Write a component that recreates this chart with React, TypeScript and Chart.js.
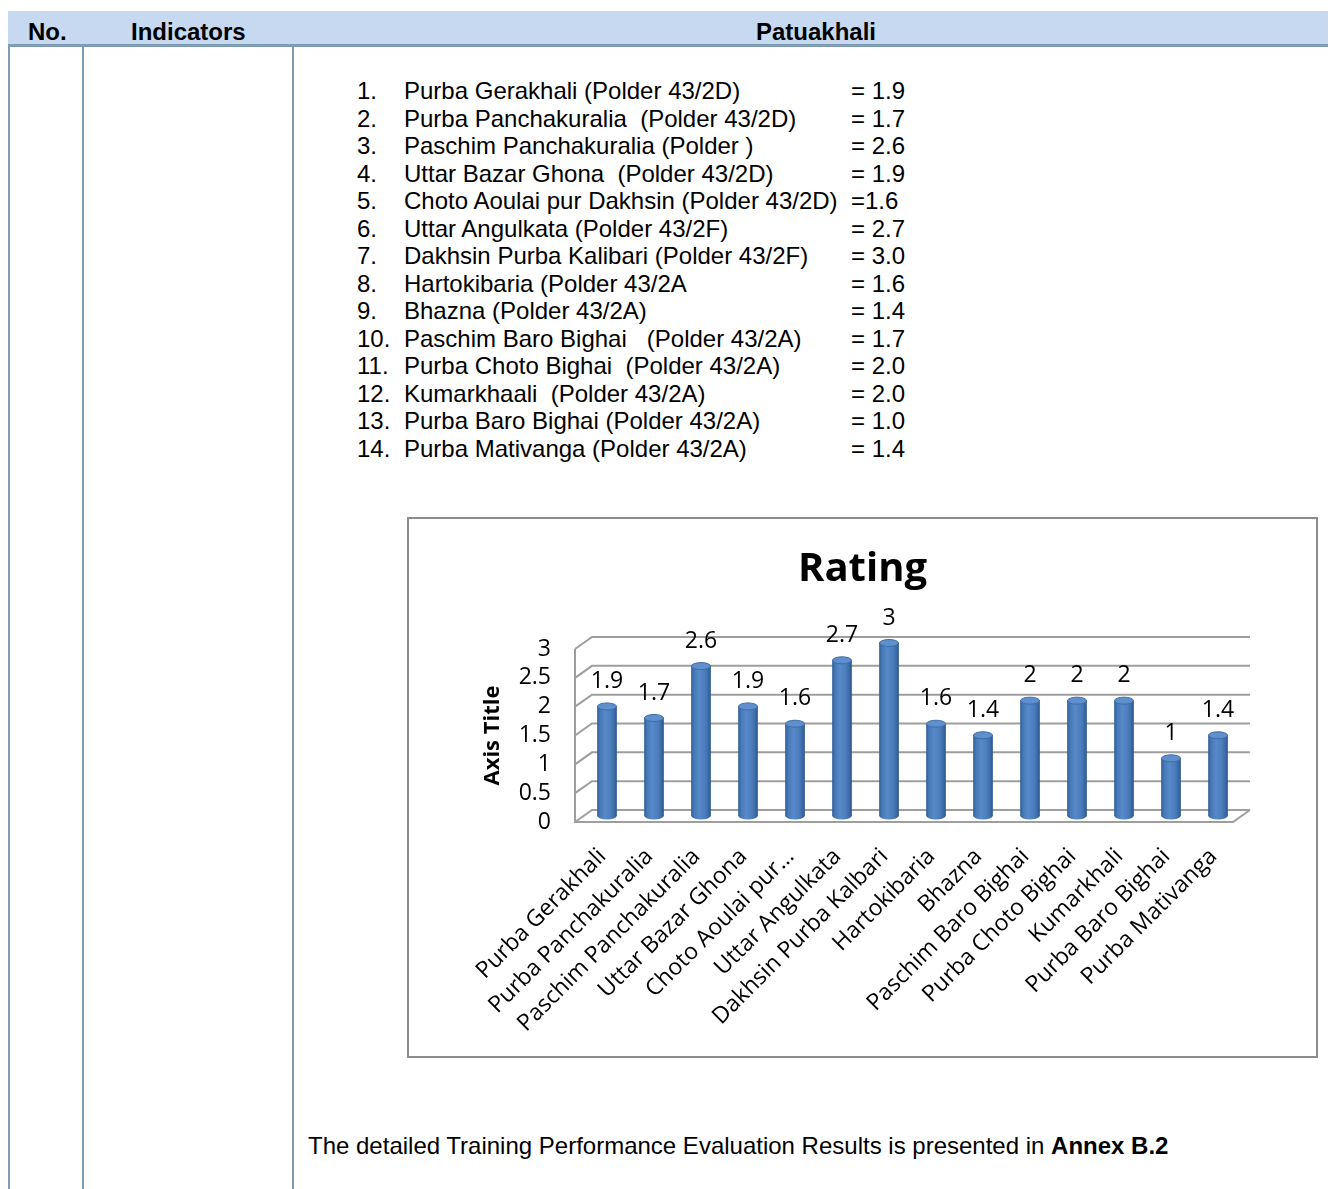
import React, { useEffect, useRef } from "react";
import { Chart, registerables } from "chart.js";

Chart.register(...registerables);

// ---------- data ----------
const categories = [
  "Purba Gerakhali",
  "Purba Panchakuralia",
  "Paschim Panchakuralia",
  "Uttar Bazar Ghona",
  "Choto Aoulai pur…",
  "Uttar Angulkata",
  "Dakhsin Purba Kalbari",
  "Hartokibaria",
  "Bhazna",
  "Paschim Baro Bighai",
  "Purba Choto Bighai",
  "Kumarkhali",
  "Purba Baro Bighai",
  "Purba Mativanga",
];
const ratings = [1.9, 1.7, 2.6, 1.9, 1.6, 2.7, 3, 1.6, 1.4, 2, 2, 2, 1, 1.4];
const yTicks = [0, 0.5, 1, 1.5, 2, 2.5, 3];

const listNames = [
  "Purba Gerakhali (Polder 43/2D)",
  "Purba Panchakuralia  (Polder 43/2D)",
  "Paschim Panchakuralia (Polder )",
  "Uttar Bazar Ghona  (Polder 43/2D)",
  "Choto Aoulai pur Dakhsin (Polder 43/2D)",
  "Uttar Angulkata (Polder 43/2F)",
  "Dakhsin Purba Kalibari (Polder 43/2F)",
  "Hartokibaria (Polder 43/2A",
  "Bhazna (Polder 43/2A)",
  "Paschim Baro Bighai   (Polder 43/2A)",
  "Purba Choto Bighai  (Polder 43/2A)",
  "Kumarkhaali  (Polder 43/2A)",
  "Purba Baro Bighai (Polder 43/2A)",
  "Purba Mativanga (Polder 43/2A)",
];
const listValues = [
  "= 1.9", "= 1.7", "= 2.6", "= 1.9", "=1.6", "= 2.7", "= 3.0",
  "= 1.6", "= 1.4", "= 1.7", "= 2.0", "= 2.0", "= 1.0", "= 1.4",
];

// ---------- styles ----------
const CHART_FONT = "'Open Sans', 'DejaVu Sans', sans-serif";
const DOC_FONT = "'Liberation Sans', Arial, sans-serif";
const GRID = "#9e9e9e";
const DX = 17;
const DY = 12;
const BAR_W = 19;
const LINE_COLOR = "#7f9cb5";
const BAR_FLAT = "#4f81bd";

function cylGradient(ctx: CanvasRenderingContext2D, cx: number, w: number): any {
  if (!isFinite(cx) || !isFinite(w)) return BAR_FLAT;
  const g = ctx.createLinearGradient(cx - w / 2, 0, cx + w / 2, 0);
  g.addColorStop(0, "#305f98");
  g.addColorStop(0.12, "#4577b6");
  g.addColorStop(0.4, "#5889c8");
  g.addColorStop(0.7, "#4b7ebd");
  g.addColorStop(0.9, "#3a6aa6");
  g.addColorStop(1, "#2b5689");
  return g;
}

const depthPlugin = {
  id: "depth3d",
  beforeDatasetsDraw(chart: any) {
    const { ctx, chartArea: a, scales } = chart;
    const y = scales.y;
    ctx.save();
    ctx.strokeStyle = GRID;
    ctx.lineWidth = 2;
    y.ticks.forEach((t: any) => {
      const py = y.getPixelForValue(t.value);
      ctx.beginPath();
      ctx.moveTo(a.left, py);
      ctx.lineTo(a.left + DX, py - DY);
      ctx.lineTo(a.right + DX, py - DY);
      ctx.stroke();
    });
    const y0 = y.getPixelForValue(0);
    const yTop = y.getPixelForValue(y.max);
    ctx.beginPath();
    ctx.moveTo(a.left, yTop);
    ctx.lineTo(a.left, y0);
    ctx.lineTo(a.right, y0);
    ctx.lineTo(a.right + DX, y0 - DY);
    ctx.stroke();
    ctx.restore();

    // shift the cylinders to the middle of the depth
    ctx.save();
    ctx.translate(DX / 2, -DY / 2);
    const meta = chart.getDatasetMeta(0);
    meta.data.forEach((el: any) => {
      if (!isFinite(el.x) || !isFinite(el.base)) return;
      ctx.beginPath();
      ctx.ellipse(el.x, el.base, el.width / 2, 3.5, 0, 0, Math.PI * 2);
      ctx.fillStyle = cylGradient(ctx, el.x, el.width);
      ctx.fill();
    });
  },
  afterDatasetsDraw(chart: any) {
    const { ctx } = chart;
    const meta = chart.getDatasetMeta(0);
    meta.data.forEach((el: any) => {
      if (!isFinite(el.x) || !isFinite(el.y)) return;
      ctx.beginPath();
      ctx.ellipse(el.x, el.y, el.width / 2, 3.5, 0, 0, Math.PI * 2);
      ctx.fillStyle = "#5f8fcc";
      ctx.fill();
      ctx.lineWidth = 1;
      ctx.strokeStyle = "#3d6ca6";
      ctx.stroke();
    });
    ctx.restore();

    // data labels
    ctx.save();
    ctx.font = `23px ${CHART_FONT}`;
    ctx.fillStyle = "#000";
    ctx.textAlign = "center";
    ctx.textBaseline = "middle";
    meta.data.forEach((el: any, i: number) => {
      ctx.fillText(String(ratings[i]), el.x + DX / 2, el.y - DY / 2 - 25);
    });
    ctx.restore();
  },
};

function RatingChart() {
  const ref = useRef<HTMLCanvasElement | null>(null);
  useEffect(() => {
    if (!ref.current) return;
    let chart: any = null;
    try {
      chart = new Chart(ref.current, {
        type: "bar",
        data: {
          labels: categories,
          datasets: [
            {
              label: "Rating",
              data: ratings,
              barThickness: BAR_W,
              clip: false as any,
              borderWidth: 0,
              backgroundColor: (c: any) => {
                const ch = c.chart;
                const xs = ch.scales && ch.scales.x;
                if (!xs || c.dataIndex === undefined || !ch.chartArea) return BAR_FLAT;
                const cx = xs.getPixelForValue(c.dataIndex);
                return cylGradient(ch.ctx, cx, BAR_W);
              },
            },
          ],
        },
        options: {
          responsive: false,
          animation: false,
          devicePixelRatio: 1,
          layout: { padding: { left: 83, right: 83, top: 20, bottom: 0 } },
          plugins: {
            legend: { display: false },
            tooltip: { enabled: false },
            title: {
              display: true,
              text: "Rating",
              color: "#000",
              font: { family: CHART_FONT, size: 40, weight: "bold" },
              padding: { top: 7, bottom: 55 },
            },
          },
          scales: {
            x: {
              grid: { display: false, drawTicks: false },
              border: { display: false },
              ticks: {
                autoSkip: false,
                minRotation: 45,
                maxRotation: 45,
                padding: 21,
                labelOffset: 4,
                color: "#000",
                font: { family: CHART_FONT, size: 23 },
              },
              afterFit: (s: any) => {
                s.height = 234;
              },
            },
            y: {
              min: 0,
              max: 3,
              grid: { display: false, drawTicks: false },
              border: { display: false },
              afterBuildTicks: (s: any) => {
                s.ticks = yTicks.map((v) => ({ value: v }));
              },
              ticks: {
                autoSkip: false,
                padding: 24,
                color: "#000",
                font: { family: CHART_FONT, size: 23 },
                callback: (v: any) => String(v),
              },
              title: {
                display: true,
                text: "Axis Title",
                color: "#000",
                font: { family: CHART_FONT, size: 22, weight: "bold" },
                padding: { top: -12, bottom: 0 },
              },
              afterFit: (s: any) => {
                s.width = 83;
              },
            },
          },
        },
        plugins: [depthPlugin],
      });
    } catch (e) {
      console.error(e);
    }
    return () => {
      if (chart) chart.destroy();
    };
  }, []);
  return <canvas ref={ref} width={907} height={537} style={{ display: "block" }} />;
}

export default function App() {
  const abs = (s: React.CSSProperties): React.CSSProperties => ({ position: "absolute", ...s });
  return (
    <div style={{ position: "relative", width: 1328, height: 1181, overflow: "hidden", fontFamily: DOC_FONT, color: "#000" }}>
      <style>{`html,body{overflow:hidden}`}</style>
      {/* header */}
      <div style={abs({ left: 0, top: 3, width: 1328, height: 33, background: "#c6d9f1" })} />
      <div style={abs({ left: 0, top: 36, width: 1328, height: 3, background: LINE_COLOR })} />
      <div style={abs({ left: 0, top: 39, width: 2, height: 1142, background: LINE_COLOR })} />
      <div style={abs({ left: 74, top: 39, width: 2, height: 1142, background: LINE_COLOR })} />
      <div style={abs({ left: 284, top: 39, width: 2, height: 1142, background: LINE_COLOR })} />
      <div style={abs({ left: 20, top: 7, lineHeight: "33px", fontSize: 24, fontWeight: "bold" })}>No.</div>
      <div style={abs({ left: 123, top: 7, lineHeight: "33px", fontSize: 24, fontWeight: "bold" })}>Indicators</div>
      <div style={abs({ left: 608, width: 400, textAlign: "center", top: 7, lineHeight: "33px", fontSize: 24, fontWeight: "bold" })}>Patuakhali</div>

      {/* list */}
      <div style={abs({ left: 349, top: 69, fontSize: 24, lineHeight: "27.54px", whiteSpace: "pre" })}>
        {listNames.map((n, i) => (
          <div key={i} style={{ position: "relative", height: 27.54 }}>
            <span style={{ position: "absolute", left: 0 }}>{`${i + 1}.`}</span>
            <span style={{ position: "absolute", left: 47 }}>{n}</span>
            <span style={{ position: "absolute", left: 494 }}>{listValues[i]}</span>
          </div>
        ))}
      </div>

      {/* chart box */}
      <div style={abs({ left: 399, top: 509, width: 907, height: 537, border: "2px solid #8c8c8c", background: "#fff" })}>
        <RatingChart />
      </div>

      {/* footer sentence */}
      <div style={abs({ left: 300, top: 1125, fontSize: 24, lineHeight: "26px", whiteSpace: "pre" })}>
        The detailed Training Performance Evaluation Results is presented in <b>Annex B.2</b>
      </div>
    </div>
  );
}
